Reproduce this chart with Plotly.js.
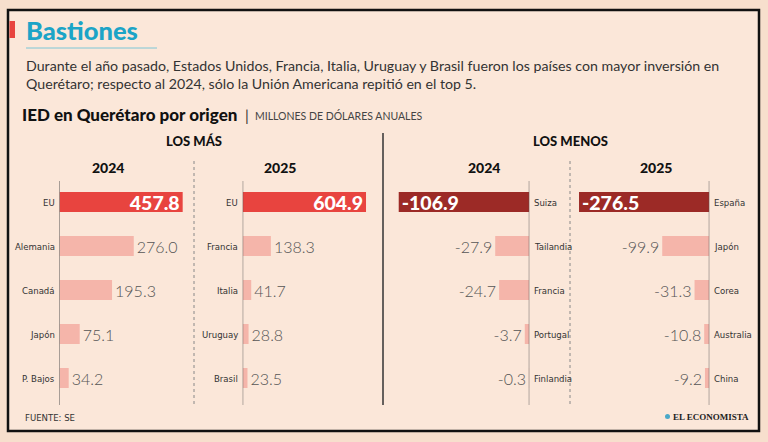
<!DOCTYPE html>
<html>
<head>
<meta charset="utf-8">
<script src="https://cdn.plot.ly/plotly-3.0.1.min.js"></script>
<style>
html,body{margin:0;padding:0;background:#f7dfcd;}
#chart{width:768px;height:442px;}
</style>
</head>
<body>
<div id="chart"></div>
<script>
// ---- Data ----
const groupTitles = ['LOS MÁS', 'LOS MENOS'];
const yearLabels = ['2024', '2025'];

const mas2024Countries = ['EU', 'Alemania', 'Canadá', 'Japón', 'P. Bajos'];
const mas2024Values = [457.8, 276.0, 195.3, 75.1, 34.2];

const mas2025Countries = ['EU', 'Francia', 'Italia', 'Uruguay', 'Brasil'];
const mas2025Values = [604.9, 138.3, 41.7, 28.8, 23.5];

const menos2024Countries = ['Suiza', 'Tailandia', 'Francia', 'Portugal', 'Finlandia'];
const menos2024Values = [-106.9, -27.9, -24.7, -3.7, -0.3];

const menos2025Countries = ['España', 'Japón', 'Corea', 'Australia', 'China'];
const menos2025Values = [-276.5, -99.9, -31.3, -10.8, -9.2];

const titleText = 'Bastiones';
const subtitleLines = [
  'Durante el año pasado, Estados Unidos, Francia, Italia, Uruguay y Brasil fueron los países con mayor inversión en',
  'Querétaro; respecto al 2024, sólo la Unión Americana repitió en el top 5.'
];
const chartTitle = 'IED en Querétaro por origen';
const unitsText = 'MILLONES DE DÓLARES ANUALES';
const sourceText = 'FUENTE: SE';
const logoText = 'EL ECONOMISTA';

// ---- Helpers ----
const W = 768, H = 442;
const px = x => x / W;
const py = y => 1 - y / H;

const RED = '#e8443f', DARK = '#9c2a26', PINK = '#f5b5aa';
const SANS = 'Lato, "Open Sans", sans-serif';
const NARROW = '"DejaVu Sans Condensed", "Liberation Sans Narrow", sans-serif';

const panels = [
  {countries: mas2024Countries, values: mas2024Values, hi: RED, side: 'left',
   dom: [59.5, 190], range: [0, 485]},
  {countries: mas2025Countries, values: mas2025Values, hi: RED, side: 'left',
   dom: [242.7, 375], range: [0, 649]},
  {countries: menos2024Countries, values: menos2024Values, hi: DARK, side: 'right',
   dom: [392, 529.3], range: [-112.4, 0]},
  {countries: menos2025Countries, values: menos2025Values, hi: DARK, side: 'right',
   dom: [572, 709.3], range: [-291.4, 0]}
];

const yDomain = [py(400), py(180)];
const data = [];
const annotations = [];
const shapes = [];
const layout = {
  width: W, height: H,
  margin: {l: 0, r: 0, t: 0, b: 0},
  paper_bgcolor: '#f7dfcd',
  plot_bgcolor: 'rgba(0,0,0,0)',
  showlegend: false,
  annotations, shapes
};

panels.forEach((p, i) => {
  const n = i === 0 ? '' : String(i + 1);
  const xa = 'x' + n, ya = 'y' + n;
  data.push({
    type: 'bar', orientation: 'h',
    x: p.values, y: p.countries,
    xaxis: xa, yaxis: ya,
    width: 0.455,
    marker: {color: p.values.map((v, k) => k === 0 ? p.hi : PINK), line: {width: 0}},
    text: p.values.map(v => v.toFixed(1)),
    textposition: p.values.map((v, k) => k === 0 ? 'inside' : 'outside'),
    insidetextanchor: 'end',
    insidetextfont: {family: SANS, size: 19.5, color: '#ffffff', weight: 900},
    outsidetextfont: {family: SANS, size: 16, color: '#555555', weight: 300},
    constraintext: 'none',
    cliponaxis: false,
    hoverinfo: 'none'
  });
  layout['xaxis' + n] = {
    domain: [px(p.dom[0]), px(p.dom[1])], range: p.range, anchor: ya,
    showgrid: false, zeroline: false, showline: false, showticklabels: false, ticks: '', fixedrange: true
  };
  layout['yaxis' + n] = {
    domain: yDomain, range: [4.5, -0.5], anchor: xa, type: 'category',
    categoryarray: p.countries, categoryorder: 'array',
    showgrid: false, zeroline: false, showline: false, showticklabels: false, ticks: '', fixedrange: true
  };
  // axis line at zero
  shapes.push({type: 'line', xref: xa, yref: 'paper', x0: 0, x1: 0, y0: py(181), y1: py(405),
    line: {color: '#555555', width: 1}});
  // category labels
  p.countries.forEach((c, k) => {
    annotations.push({
      xref: xa, yref: ya, x: 0, y: k, text: c, showarrow: false,
      xanchor: p.side === 'left' ? 'right' : 'left',
      xshift: p.side === 'left' ? -3 : 3,
      yanchor: 'middle',
      font: {family: NARROW, size: 9.5, color: '#333333'}
    });
  });
});

// Frame and decorations
shapes.unshift(
  {type: 'rect', xref: 'paper', yref: 'paper', x0: px(8), x1: px(759), y0: py(431), y1: py(10),
   fillcolor: '#fbe7d9', line: {color: '#111111', width: 2.5}, layer: 'below'},
  {type: 'rect', xref: 'paper', yref: 'paper', x0: px(9.5), x1: px(15), y0: py(38), y1: py(21),
   fillcolor: '#e8443f', line: {width: 0}},
  {type: 'line', xref: 'paper', yref: 'paper', x0: px(26), x1: px(157), y0: py(48), y1: py(48),
   line: {color: '#7cc6d6', width: 1}},
  {type: 'line', xref: 'paper', yref: 'paper', x0: px(383), x1: px(383), y0: py(133), y1: py(405),
   line: {color: '#333333', width: 1.5}},
  {type: 'line', xref: 'paper', yref: 'paper', x0: px(194), x1: px(194), y0: py(161), y1: py(405),
   line: {color: '#888888', width: 1, dash: 'dot'}},
  {type: 'line', xref: 'paper', yref: 'paper', x0: px(570), x1: px(570), y0: py(161), y1: py(405),
   line: {color: '#888888', width: 1, dash: 'dot'}},
  {type: 'circle', xref: 'paper', yref: 'paper', x0: px(665), x1: px(670), y0: py(419), y1: py(414),
   fillcolor: '#4aa8c8', line: {width: 0}}
);

function txt(x, y, text, font, xanchor) {
  annotations.push({xref: 'paper', yref: 'paper', x: px(x), y: py(y), text, showarrow: false,
    xanchor: xanchor || 'left', yanchor: 'middle', font});
}

txt(24, 30, titleText, {family: SANS, size: 25.5, color: '#1ca4c7', weight: 900});
txt(24, 65, subtitleLines[0], {family: SANS, size: 14.2, color: '#333333'});
txt(24, 83, subtitleLines[1], {family: SANS, size: 14.2, color: '#333333'});
txt(20, 115, chartTitle, {family: SANS, size: 17, color: '#111111', weight: 900});
txt(243, 115, '|', {family: SANS, size: 15, color: '#333333'});
txt(253, 116, unitsText, {family: SANS, size: 10.5, color: '#444444'});

txt(194, 141, groupTitles[0], {family: SANS, size: 13, color: '#111111', weight: 900}, 'center');
txt(570.5, 141, groupTitles[1], {family: SANS, size: 13, color: '#111111', weight: 900}, 'center');
txt(108, 167, yearLabels[0], {family: SANS, size: 14, color: '#111111', weight: 900}, 'center');
txt(280, 167, yearLabels[1], {family: SANS, size: 14, color: '#111111', weight: 900}, 'center');
txt(484, 167, yearLabels[0], {family: SANS, size: 14, color: '#111111', weight: 900}, 'center');
txt(656, 167, yearLabels[1], {family: SANS, size: 14, color: '#111111', weight: 900}, 'center');

txt(23, 417, sourceText, {family: NARROW, size: 9.5, color: '#333333'});
txt(671, 417, logoText, {family: '"Liberation Serif", serif', size: 9, color: '#222222', weight: 'bold'});

Plotly.newPlot('chart', data, layout, {staticPlot: true, displayModeBar: false});
</script>
</body>
</html>
